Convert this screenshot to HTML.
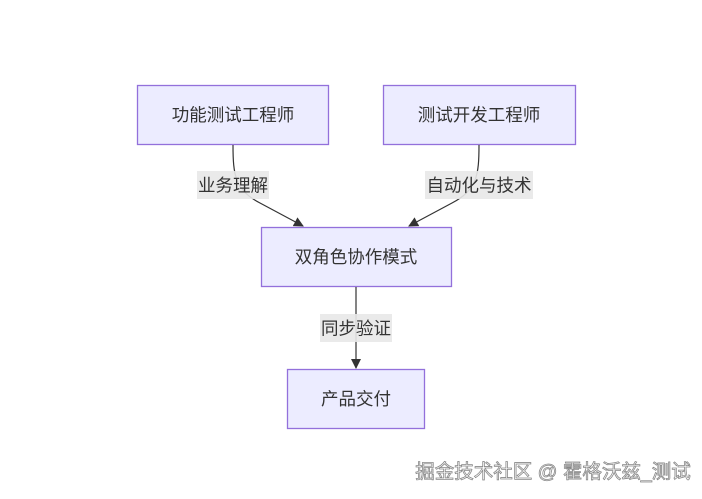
<!DOCTYPE html>
<html><head><meta charset="utf-8"><style>
html,body{margin:0;padding:0;background:#fff;}
svg{display:block;}
text{font-family:"Liberation Sans","Noto Sans CJK SC",sans-serif;}
</style></head><body>
<svg width="702" height="499" viewBox="0 0 702 499" xmlns="http://www.w3.org/2000/svg">
<defs><marker id="a" markerWidth="10" markerHeight="10" refX="9" refY="5" orient="auto" markerUnits="userSpaceOnUse"><path d="M0,0 L10,5 L0,10 z" fill="#333"/></marker></defs>
<g fill="#ECECFF" stroke="#9370DB" stroke-width="1.3">
<rect x="137.5" y="85.5" width="191" height="59"/>
<rect x="383.5" y="85.5" width="192" height="59"/>
<rect x="261.5" y="227.5" width="190" height="59"/>
<rect x="287.5" y="369.5" width="137" height="59"/>
</g>
<g fill="none" stroke="#333" stroke-width="1.2">
<path d="M233,145 C233,175 235,190 260,203 L303,226" marker-end="url(#a)"/>
<path d="M479,145 C479,175 477,190 452,203 L409,226" marker-end="url(#a)"/>
<path d="M356,287 L356,368" marker-end="url(#a)"/>
</g>
<g fill="#e8e8e8" opacity="0.9">
<rect x="197" y="171" width="72" height="28"/>
<rect x="425" y="171" width="108" height="28"/>
<rect x="320" y="314" width="72" height="28"/>
</g>
<g fill="#333" font-size="17.5" text-anchor="middle">
<text x="233" y="121">功能测试工程师</text>
<text x="479" y="121">测试开发工程师</text>
<text x="356" y="263">双角色协作模式</text>
<text x="356" y="405">产品交付</text>
<text x="233" y="191.5">业务理解</text>
<text x="479" y="191.5">自动化与技术</text>
<text x="356" y="334.5">同步验证</text>
</g>
<text x="553" y="478" font-size="19.5" text-anchor="middle" fill="#fff" stroke="#888" stroke-width="0.8">掘金技术社区 @ 霍格沃兹_测试</text>
</svg>
</body></html>
